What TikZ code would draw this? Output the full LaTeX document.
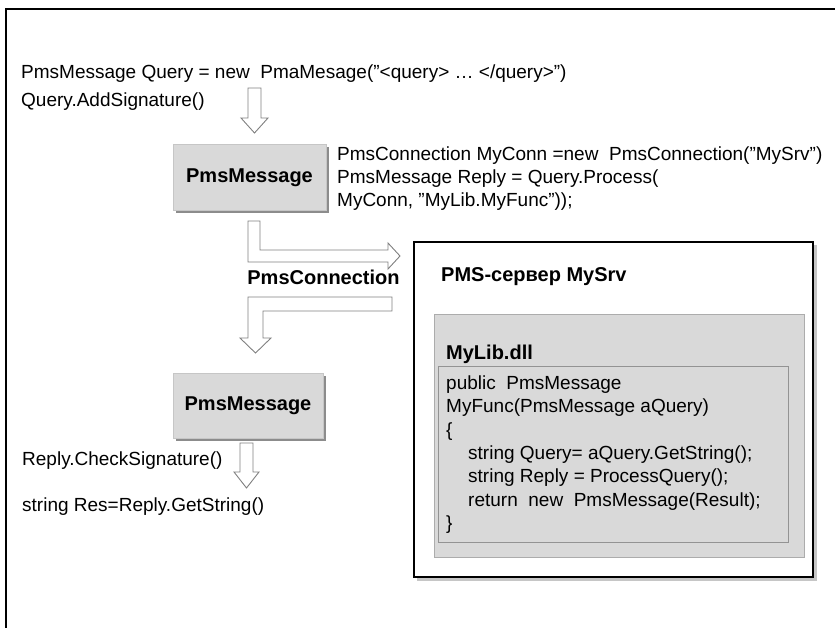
\documentclass[tikz,border=0pt]{standalone}
\usepackage{fontspec}
\setmainfont{Liberation Sans}
\definecolor{boxgray}{HTML}{D9D9D9}
\definecolor{arrowgray}{HTML}{808080}
\definecolor{shadegray}{HTML}{8C8C8C}
\newcommand{\qq}{\symbol{34}}
\begin{document}
\begin{tikzpicture}[x=1pt,y=-1pt,
  txt/.style={font=\fontsize{19}{23}\selectfont, anchor=base west, inner sep=0pt},
  lbl/.style={font=\fontsize{20}{24}\selectfont\bfseries, inner sep=0pt},
  msgbox/.style={fill=boxgray, draw=gray!45, line width=0.8pt, minimum width=153pt, minimum height=66pt, inner sep=0pt},
  hollow/.style={fill=white, draw=arrowgray, line width=0.9pt, line join=miter}]
\useasboundingbox (0,0) rectangle (835,628);
% outer frame (top and left only)
\draw[line width=2pt] (6,628) -- (6,9) -- (835,9);

% top texts
\node[txt] (t1) at (21,78.5) {PmsMessage Query = new\ \ PmaMesage(\qq<query> … </query>\qq)};
\node[txt] (t2) at (21,106.5) {Query.AddSignature()};

% straight arrow 1
\draw[hollow] (248,88) -- (261,88) -- (261,118) -- (268,118) -- (254.5,133) -- (241,118) -- (248,118) -- cycle;

% box 1
\fill[shadegray] (176,147) rectangle (328.5,213);
\node[msgbox, lbl] (b1) at (249.5,177.5) {PmsMessage};

\node[txt] (r1) at (337,160.5) {PmsConnection MyConn =new\ \ PmsConnection(\qq MySrv\qq)};
\node[txt] (r2) at (337,183.5) {PmsMessage Reply = Query.Process(};
\node[txt] (r3) at (337,206.5) {MyConn, \qq MyLib.MyFunc\qq));};

% bent arrow 1
\draw[hollow] (248,221) -- (260,221) -- (260,250) -- (388,250) -- (388,243) -- (400,256) -- (388,269) -- (388,262) -- (248,262) -- cycle;

\node[lbl, anchor=base] (pc) at (323.5,284) {PmsConnection};

% bent arrow 2
\draw[hollow] (248,297) -- (392,297) -- (392,311) -- (263,311) -- (263,338) -- (271,338) -- (255.5,353) -- (240,338) -- (248,338) -- cycle;

% box 2
\fill[shadegray] (175.5,376) rectangle (326,441);
\node[msgbox, lbl, minimum width=150pt, minimum height=65pt] (b2) at (248,405.5) {PmsMessage};

% straight arrow 3
\draw[hollow] (240,443) -- (253,443) -- (253,472) -- (259,472) -- (246.5,488) -- (234,472) -- (240,472) -- cycle;

\node[txt] (t3) at (22,465.5) {Reply.CheckSignature()};
\node[txt] (t4) at (22,511.5) {string Res=Reply.GetString()};

% server box
\fill[gray!45] (417,245) rectangle (816.5,580.5);
\draw[line width=2.5pt, fill=white] (414,242) rectangle (813,577);
\node[lbl, anchor=base west] (srv) at (441,282) {PMS-сервер MySrv};

% MyLib box
\draw[fill=boxgray, draw=gray!65, line width=0.9pt] (434,314) rectangle (804,557);
\node[lbl, anchor=base west] (lib) at (446,359) {MyLib.dll};

% code box
\draw[fill=boxgray, draw=gray!85, line width=0.9pt] (438,366) rectangle (788,542);
\node[txt] (c1) at (446,389.5) {public\ \ PmsMessage};
\node[txt] (c2) at (446,412.8) {MyFunc(PmsMessage aQuery)};
\node[txt] (c3) at (446,436.1) {\{};
\node[txt] (c4) at (468,459.4) {string Query= aQuery.GetString();};
\node[txt] (c5) at (468,482.7) {string Reply = ProcessQuery();};
\node[txt] (c6) at (468,506) {return\ \ new\ \ PmsMessage(Result);};
\node[txt] (c7) at (446,529.3) {\}};
\end{tikzpicture}
\end{document}
